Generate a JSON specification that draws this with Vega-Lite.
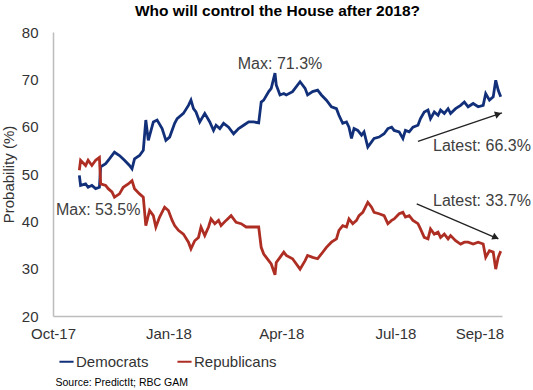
{
  "$schema": "https://vega.github.io/schema/vega-lite/v6.json",
  "width": 449,
  "height": 284,
  "autosize": {"type": "none"},
  "padding": {"left": 53, "top": 32, "right": 31, "bottom": 74},
  "background": "white",
  "title": {"text": "Who will control the House after 2018?", "fontSize": 15.5, "font": "Liberation Sans", "fontWeight": "bold", "color": "#000000", "anchor": "middle", "offset": 6},
  "config": {"view": {"stroke": null}, "font": "Liberation Sans"},
  "datasets": {
    "house": [
      {"date": "2017-10-22", "party": "Democrats", "value": 49.7},
      {"date": "2017-10-23", "party": "Democrats", "value": 47.6},
      {"date": "2017-10-27", "party": "Democrats", "value": 47.9},
      {"date": "2017-10-29", "party": "Democrats", "value": 47.2},
      {"date": "2017-11-01", "party": "Democrats", "value": 47.6},
      {"date": "2017-11-04", "party": "Democrats", "value": 46.9},
      {"date": "2017-11-07", "party": "Democrats", "value": 47.2},
      {"date": "2017-11-08", "party": "Democrats", "value": 51.5},
      {"date": "2017-11-12", "party": "Democrats", "value": 52.2},
      {"date": "2017-11-15", "party": "Democrats", "value": 53.2},
      {"date": "2017-11-19", "party": "Democrats", "value": 54.6},
      {"date": "2017-11-23", "party": "Democrats", "value": 53.9},
      {"date": "2017-11-27", "party": "Democrats", "value": 52.9},
      {"date": "2017-12-01", "party": "Democrats", "value": 51.8},
      {"date": "2017-12-03", "party": "Democrats", "value": 51.1},
      {"date": "2017-12-05", "party": "Democrats", "value": 53.2},
      {"date": "2017-12-09", "party": "Democrats", "value": 53.9},
      {"date": "2017-12-12", "party": "Democrats", "value": 55.0},
      {"date": "2017-12-14", "party": "Democrats", "value": 61.4},
      {"date": "2017-12-16", "party": "Democrats", "value": 57.1},
      {"date": "2017-12-20", "party": "Democrats", "value": 61.0},
      {"date": "2017-12-23", "party": "Democrats", "value": 61.4},
      {"date": "2017-12-27", "party": "Democrats", "value": 59.6},
      {"date": "2017-12-30", "party": "Democrats", "value": 57.1},
      {"date": "2018-01-02", "party": "Democrats", "value": 57.8},
      {"date": "2018-01-06", "party": "Democrats", "value": 60.7},
      {"date": "2018-01-08", "party": "Democrats", "value": 61.7},
      {"date": "2018-01-13", "party": "Democrats", "value": 62.8},
      {"date": "2018-01-17", "party": "Democrats", "value": 64.5},
      {"date": "2018-01-19", "party": "Democrats", "value": 65.6},
      {"date": "2018-01-21", "party": "Democrats", "value": 63.8},
      {"date": "2018-01-23", "party": "Democrats", "value": 63.1},
      {"date": "2018-01-26", "party": "Democrats", "value": 61.0},
      {"date": "2018-01-30", "party": "Democrats", "value": 62.8},
      {"date": "2018-02-03", "party": "Democrats", "value": 61.0},
      {"date": "2018-02-06", "party": "Democrats", "value": 59.2},
      {"date": "2018-02-08", "party": "Democrats", "value": 60.3},
      {"date": "2018-02-11", "party": "Democrats", "value": 59.6},
      {"date": "2018-02-14", "party": "Democrats", "value": 60.7},
      {"date": "2018-02-18", "party": "Democrats", "value": 59.9},
      {"date": "2018-02-22", "party": "Democrats", "value": 58.5},
      {"date": "2018-02-26", "party": "Democrats", "value": 59.6},
      {"date": "2018-03-02", "party": "Democrats", "value": 60.3},
      {"date": "2018-03-06", "party": "Democrats", "value": 61.0},
      {"date": "2018-03-10", "party": "Democrats", "value": 61.0},
      {"date": "2018-03-14", "party": "Democrats", "value": 60.8},
      {"date": "2018-03-16", "party": "Democrats", "value": 65.2},
      {"date": "2018-03-18", "party": "Democrats", "value": 65.6},
      {"date": "2018-03-22", "party": "Democrats", "value": 67.4},
      {"date": "2018-03-24", "party": "Democrats", "value": 68.1},
      {"date": "2018-03-27", "party": "Democrats", "value": 71.3},
      {"date": "2018-03-28", "party": "Democrats", "value": 68.8},
      {"date": "2018-03-31", "party": "Democrats", "value": 66.7},
      {"date": "2018-04-03", "party": "Democrats", "value": 67.0},
      {"date": "2018-04-05", "party": "Democrats", "value": 66.7},
      {"date": "2018-04-10", "party": "Democrats", "value": 67.4},
      {"date": "2018-04-16", "party": "Democrats", "value": 69.5},
      {"date": "2018-04-20", "party": "Democrats", "value": 68.1},
      {"date": "2018-04-22", "party": "Democrats", "value": 66.7},
      {"date": "2018-04-26", "party": "Democrats", "value": 67.4},
      {"date": "2018-04-30", "party": "Democrats", "value": 67.7},
      {"date": "2018-05-03", "party": "Democrats", "value": 66.7},
      {"date": "2018-05-07", "party": "Democrats", "value": 65.6},
      {"date": "2018-05-11", "party": "Democrats", "value": 64.2},
      {"date": "2018-05-15", "party": "Democrats", "value": 63.8},
      {"date": "2018-05-17", "party": "Democrats", "value": 62.4},
      {"date": "2018-05-20", "party": "Democrats", "value": 60.7},
      {"date": "2018-05-23", "party": "Democrats", "value": 61.0},
      {"date": "2018-05-25", "party": "Democrats", "value": 59.9},
      {"date": "2018-05-27", "party": "Democrats", "value": 57.5},
      {"date": "2018-05-29", "party": "Democrats", "value": 59.6},
      {"date": "2018-06-01", "party": "Democrats", "value": 59.2},
      {"date": "2018-06-04", "party": "Democrats", "value": 58.2},
      {"date": "2018-06-06", "party": "Democrats", "value": 58.9},
      {"date": "2018-06-09", "party": "Democrats", "value": 55.7},
      {"date": "2018-06-12", "party": "Democrats", "value": 56.8},
      {"date": "2018-06-14", "party": "Democrats", "value": 57.5},
      {"date": "2018-06-18", "party": "Democrats", "value": 57.8},
      {"date": "2018-06-22", "party": "Democrats", "value": 58.5},
      {"date": "2018-06-25", "party": "Democrats", "value": 59.6},
      {"date": "2018-06-28", "party": "Democrats", "value": 59.9},
      {"date": "2018-06-30", "party": "Democrats", "value": 59.2},
      {"date": "2018-07-04", "party": "Democrats", "value": 58.9},
      {"date": "2018-07-07", "party": "Democrats", "value": 57.5},
      {"date": "2018-07-09", "party": "Democrats", "value": 59.2},
      {"date": "2018-07-12", "party": "Democrats", "value": 58.9},
      {"date": "2018-07-15", "party": "Democrats", "value": 59.9},
      {"date": "2018-07-19", "party": "Democrats", "value": 60.3},
      {"date": "2018-07-21", "party": "Democrats", "value": 61.7},
      {"date": "2018-07-24", "party": "Democrats", "value": 63.1},
      {"date": "2018-07-27", "party": "Democrats", "value": 63.5},
      {"date": "2018-07-29", "party": "Democrats", "value": 61.7},
      {"date": "2018-08-01", "party": "Democrats", "value": 63.1},
      {"date": "2018-08-04", "party": "Democrats", "value": 62.4},
      {"date": "2018-08-06", "party": "Democrats", "value": 63.5},
      {"date": "2018-08-09", "party": "Democrats", "value": 62.8},
      {"date": "2018-08-12", "party": "Democrats", "value": 63.8},
      {"date": "2018-08-14", "party": "Democrats", "value": 62.8},
      {"date": "2018-08-18", "party": "Democrats", "value": 63.8},
      {"date": "2018-08-22", "party": "Democrats", "value": 64.5},
      {"date": "2018-08-25", "party": "Democrats", "value": 65.2},
      {"date": "2018-08-28", "party": "Democrats", "value": 64.2},
      {"date": "2018-09-01", "party": "Democrats", "value": 64.9},
      {"date": "2018-09-05", "party": "Democrats", "value": 64.2},
      {"date": "2018-09-09", "party": "Democrats", "value": 64.5},
      {"date": "2018-09-11", "party": "Democrats", "value": 67.0},
      {"date": "2018-09-14", "party": "Democrats", "value": 65.6},
      {"date": "2018-09-17", "party": "Democrats", "value": 66.3},
      {"date": "2018-09-19", "party": "Democrats", "value": 69.8},
      {"date": "2018-09-21", "party": "Democrats", "value": 67.7},
      {"date": "2018-09-23", "party": "Democrats", "value": 66.3},
      {"date": "2017-10-22", "party": "Republicans", "value": 50.8},
      {"date": "2017-10-23", "party": "Republicans", "value": 52.9},
      {"date": "2017-10-27", "party": "Republicans", "value": 51.8},
      {"date": "2017-10-29", "party": "Republicans", "value": 52.9},
      {"date": "2017-11-01", "party": "Republicans", "value": 51.8},
      {"date": "2017-11-04", "party": "Republicans", "value": 52.9},
      {"date": "2017-11-07", "party": "Republicans", "value": 53.5},
      {"date": "2017-11-08", "party": "Republicans", "value": 47.9},
      {"date": "2017-11-12", "party": "Republicans", "value": 47.6},
      {"date": "2017-11-14", "party": "Republicans", "value": 46.9},
      {"date": "2017-11-17", "party": "Republicans", "value": 46.2},
      {"date": "2017-11-19", "party": "Republicans", "value": 45.1},
      {"date": "2017-11-23", "party": "Republicans", "value": 45.8},
      {"date": "2017-11-26", "party": "Republicans", "value": 47.2},
      {"date": "2017-11-30", "party": "Republicans", "value": 47.9},
      {"date": "2017-12-03", "party": "Republicans", "value": 48.6},
      {"date": "2017-12-05", "party": "Republicans", "value": 46.9},
      {"date": "2017-12-09", "party": "Republicans", "value": 45.8},
      {"date": "2017-12-12", "party": "Republicans", "value": 45.1},
      {"date": "2017-12-14", "party": "Republicans", "value": 39.1},
      {"date": "2017-12-17", "party": "Republicans", "value": 42.3},
      {"date": "2017-12-20", "party": "Republicans", "value": 41.2},
      {"date": "2017-12-22", "party": "Republicans", "value": 38.8},
      {"date": "2017-12-25", "party": "Republicans", "value": 40.9},
      {"date": "2017-12-29", "party": "Republicans", "value": 43.0},
      {"date": "2018-01-01", "party": "Republicans", "value": 42.3},
      {"date": "2018-01-04", "party": "Republicans", "value": 40.2},
      {"date": "2018-01-06", "party": "Republicans", "value": 39.1},
      {"date": "2018-01-09", "party": "Republicans", "value": 38.1},
      {"date": "2018-01-13", "party": "Republicans", "value": 37.3},
      {"date": "2018-01-17", "party": "Republicans", "value": 35.6},
      {"date": "2018-01-19", "party": "Republicans", "value": 34.2},
      {"date": "2018-01-22", "party": "Republicans", "value": 35.9},
      {"date": "2018-01-25", "party": "Republicans", "value": 36.6},
      {"date": "2018-01-27", "party": "Republicans", "value": 38.8},
      {"date": "2018-01-30", "party": "Republicans", "value": 37.0},
      {"date": "2018-02-02", "party": "Republicans", "value": 38.8},
      {"date": "2018-02-04", "party": "Republicans", "value": 40.5},
      {"date": "2018-02-07", "party": "Republicans", "value": 39.5},
      {"date": "2018-02-10", "party": "Republicans", "value": 40.2},
      {"date": "2018-02-12", "party": "Republicans", "value": 39.1},
      {"date": "2018-02-16", "party": "Republicans", "value": 40.2},
      {"date": "2018-02-20", "party": "Republicans", "value": 41.2},
      {"date": "2018-02-24", "party": "Republicans", "value": 39.8},
      {"date": "2018-02-28", "party": "Republicans", "value": 39.5},
      {"date": "2018-03-04", "party": "Republicans", "value": 38.8},
      {"date": "2018-03-08", "party": "Republicans", "value": 38.8},
      {"date": "2018-03-14", "party": "Republicans", "value": 38.8},
      {"date": "2018-03-16", "party": "Republicans", "value": 34.5},
      {"date": "2018-03-18", "party": "Republicans", "value": 33.1},
      {"date": "2018-03-22", "party": "Republicans", "value": 31.7},
      {"date": "2018-03-24", "party": "Republicans", "value": 31.0},
      {"date": "2018-03-27", "party": "Republicans", "value": 28.7},
      {"date": "2018-03-28", "party": "Republicans", "value": 31.3},
      {"date": "2018-03-31", "party": "Republicans", "value": 32.4},
      {"date": "2018-04-03", "party": "Republicans", "value": 33.5},
      {"date": "2018-04-05", "party": "Republicans", "value": 32.8},
      {"date": "2018-04-10", "party": "Republicans", "value": 32.1},
      {"date": "2018-04-16", "party": "Republicans", "value": 29.9},
      {"date": "2018-04-20", "party": "Republicans", "value": 31.7},
      {"date": "2018-04-22", "party": "Republicans", "value": 32.8},
      {"date": "2018-04-26", "party": "Republicans", "value": 32.4},
      {"date": "2018-04-30", "party": "Republicans", "value": 32.1},
      {"date": "2018-05-03", "party": "Republicans", "value": 33.1},
      {"date": "2018-05-07", "party": "Republicans", "value": 34.5},
      {"date": "2018-05-11", "party": "Republicans", "value": 35.6},
      {"date": "2018-05-15", "party": "Republicans", "value": 36.3},
      {"date": "2018-05-17", "party": "Republicans", "value": 38.1},
      {"date": "2018-05-20", "party": "Republicans", "value": 39.1},
      {"date": "2018-05-23", "party": "Republicans", "value": 38.8},
      {"date": "2018-05-25", "party": "Republicans", "value": 40.5},
      {"date": "2018-05-28", "party": "Republicans", "value": 39.5},
      {"date": "2018-05-31", "party": "Republicans", "value": 40.2},
      {"date": "2018-06-02", "party": "Republicans", "value": 41.2},
      {"date": "2018-06-05", "party": "Republicans", "value": 41.9},
      {"date": "2018-06-09", "party": "Republicans", "value": 44.0},
      {"date": "2018-06-12", "party": "Republicans", "value": 43.0},
      {"date": "2018-06-14", "party": "Republicans", "value": 41.9},
      {"date": "2018-06-18", "party": "Republicans", "value": 41.6},
      {"date": "2018-06-22", "party": "Republicans", "value": 41.2},
      {"date": "2018-06-25", "party": "Republicans", "value": 39.5},
      {"date": "2018-06-28", "party": "Republicans", "value": 40.2},
      {"date": "2018-06-30", "party": "Republicans", "value": 40.5},
      {"date": "2018-07-04", "party": "Republicans", "value": 41.6},
      {"date": "2018-07-07", "party": "Republicans", "value": 41.9},
      {"date": "2018-07-09", "party": "Republicans", "value": 40.9},
      {"date": "2018-07-12", "party": "Republicans", "value": 41.2},
      {"date": "2018-07-15", "party": "Republicans", "value": 40.2},
      {"date": "2018-07-19", "party": "Republicans", "value": 39.5},
      {"date": "2018-07-21", "party": "Republicans", "value": 38.4},
      {"date": "2018-07-24", "party": "Republicans", "value": 36.6},
      {"date": "2018-07-27", "party": "Republicans", "value": 36.3},
      {"date": "2018-07-29", "party": "Republicans", "value": 38.4},
      {"date": "2018-08-01", "party": "Republicans", "value": 37.3},
      {"date": "2018-08-04", "party": "Republicans", "value": 37.7},
      {"date": "2018-08-06", "party": "Republicans", "value": 36.6},
      {"date": "2018-08-09", "party": "Republicans", "value": 37.3},
      {"date": "2018-08-12", "party": "Republicans", "value": 36.3},
      {"date": "2018-08-14", "party": "Republicans", "value": 37.0},
      {"date": "2018-08-18", "party": "Republicans", "value": 35.9},
      {"date": "2018-08-22", "party": "Republicans", "value": 35.2},
      {"date": "2018-08-25", "party": "Republicans", "value": 35.6},
      {"date": "2018-08-28", "party": "Republicans", "value": 35.6},
      {"date": "2018-09-01", "party": "Republicans", "value": 35.2},
      {"date": "2018-09-05", "party": "Republicans", "value": 35.6},
      {"date": "2018-09-09", "party": "Republicans", "value": 35.2},
      {"date": "2018-09-11", "party": "Republicans", "value": 32.4},
      {"date": "2018-09-14", "party": "Republicans", "value": 33.8},
      {"date": "2018-09-17", "party": "Republicans", "value": 33.5},
      {"date": "2018-09-19", "party": "Republicans", "value": 29.9},
      {"date": "2018-09-21", "party": "Republicans", "value": 32.4},
      {"date": "2018-09-23", "party": "Republicans", "value": 33.7}
    ],
    "notes": [
      {"date": "2018-03-31", "value": 73.2, "label": "Max: 71.3%"},
      {"date": "2017-11-06", "value": 42.3, "label": "Max: 53.5%"},
      {"date": "2018-09-08", "value": 55.9, "label": "Latest: 66.3%"},
      {"date": "2018-09-08", "value": 44.4, "label": "Latest: 33.7%"}
    ],
    "arrows": [
      {"start": "2018-07-19", "end": "2018-09-24", "from": 56.9, "to": 62.9},
      {"start": "2018-07-18", "end": "2018-09-21", "from": 43.7, "to": 36.3}
    ],
    "headUp": [{"date": "2018-09-21", "value": 62.65}],
    "headDown": [{"date": "2018-09-19", "value": 36.6}]
  },
  "layer": [
    {
      "data": {"name": "house"},
      "mark": {"type": "line", "strokeWidth": 2.8},
      "encoding": {
        "x": {
          "field": "date", "type": "temporal",
          "scale": {"type": "utc", "domain": [{"year": 2017, "month": 10, "date": 1, "utc": true}, {"year": 2018, "month": 9, "date": 24, "utc": true}]},
          "axis": {
            "values": [
              {"year": 2017, "month": 10, "date": 1, "utc": true},
              {"year": 2018, "month": 1, "date": 1, "utc": true},
              {"year": 2018, "month": 4, "date": 1, "utc": true},
              {"year": 2018, "month": 7, "date": 1, "utc": true},
              {"year": 2018, "month": 9, "date": 6, "utc": true}
            ],
            "format": "%b-%y",
            "title": "Source: PredictIt; RBC GAM",
            "titleFontSize": 10.5,
            "titleFontWeight": "normal",
            "titleColor": "#000000",
            "titleAnchor": "start",
            "titleAlign": "left",
            "titleX": 2,
            "titleY": 66,
            "titleBaseline": "middle",
            "labelFontSize": 15,
            "labelColor": "#333333",
            "labelPadding": 10,
            "labelFlush": false,
            "labelOverlap": false,
            "ticks": false,
            "grid": false,
            "domainColor": "#BDBDBD",
            "domainWidth": 1.5
          }
        },
        "y": {
          "field": "value", "type": "quantitative",
          "scale": {"domain": [20, 80], "nice": false, "zero": false},
          "axis": {
            "values": [20, 30, 40, 50, 60, 70, 80],
            "title": "Probability (%)",
            "titleFontSize": 15,
            "titleFontWeight": "normal",
            "titleColor": "#333333",
            "titlePadding": 5,
            "labelFontSize": 15,
            "labelColor": "#333333",
            "labelPadding": 15,
            "ticks": false,
            "grid": false,
            "domainColor": "#BDBDBD",
            "domainWidth": 1.5
          }
        },
        "color": {
          "field": "party", "type": "nominal",
          "scale": {"domain": ["Democrats", "Republicans"], "range": ["#12307A", "#AE2E24"]},
          "legend": {
            "orient": "none",
            "legendX": 5,
            "legendY": 321,
            "direction": "horizontal",
            "title": null,
            "symbolType": "stroke",
            "symbolStrokeWidth": 2,
            "symbolSize": 200,
            "labelFontSize": 15,
            "labelColor": "#333333",
            "labelOffset": 1,
            "columnPadding": 24,
            "padding": 0
          }
        }
      }
    },
    {
      "data": {"name": "notes"},
      "mark": {"type": "text", "fontSize": 16, "color": "#404040", "align": "center", "baseline": "middle"},
      "encoding": {
        "x": {"field": "date", "type": "temporal"},
        "y": {"field": "value", "type": "quantitative"},
        "text": {"field": "label"}
      }
    },
    {
      "data": {"name": "arrows"},
      "mark": {"type": "rule", "color": "#222222", "strokeWidth": 1.3},
      "encoding": {
        "x": {"field": "start", "type": "temporal"},
        "x2": {"field": "end"},
        "y": {"field": "from", "type": "quantitative"},
        "y2": {"field": "to"}
      }
    },
    {
      "data": {"name": "headUp"},
      "mark": {"type": "point", "shape": "triangle-right", "filled": true, "color": "#222222", "size": 55, "angle": -18.4, "opacity": 1},
      "encoding": {
        "x": {"field": "date", "type": "temporal"},
        "y": {"field": "value", "type": "quantitative"}
      }
    },
    {
      "data": {"name": "headDown"},
      "mark": {"type": "point", "shape": "triangle-right", "filled": true, "color": "#222222", "size": 55, "angle": 23.1, "opacity": 1},
      "encoding": {
        "x": {"field": "date", "type": "temporal"},
        "y": {"field": "value", "type": "quantitative"}
      }
    }
  ]
}
